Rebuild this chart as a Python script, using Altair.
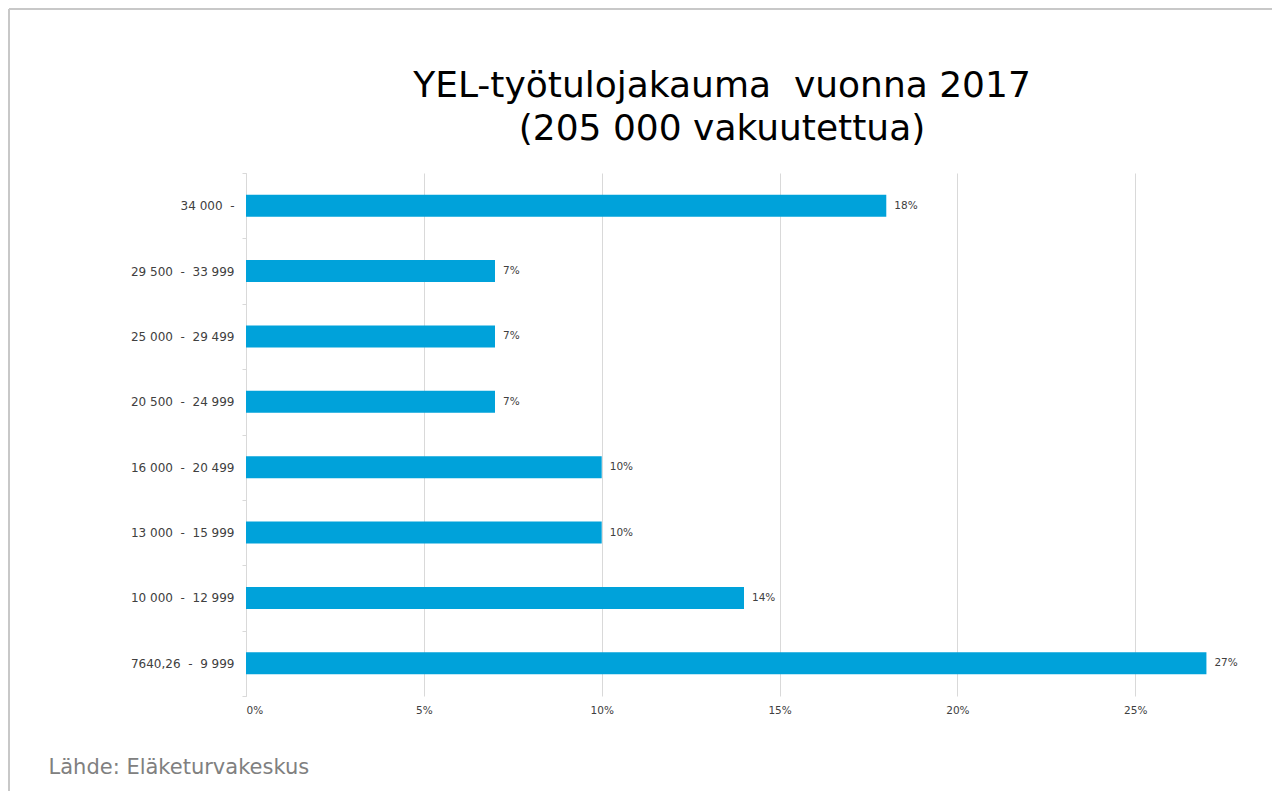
import altair as alt
import pandas as pd

NB = "\u00a0"
categories = [
    "34 000  -",
    "29 500  -  33 999",
    "25 000  -  29 499",
    "20 500  -  24 999",
    "16 000  -  20 499",
    "13 000  -  15 999",
    "10 000  -  12 999",
    "7640,26  -  9 999",
]
values = [18, 7, 7, 7, 10, 10, 14, 27]
value_labels = ["18%", "7%", "7%", "7%", "10%", "10%", "14%", "27%"]
x_ticks = [0, 5, 10, 15, 20, 25]
title_lines = ["YEL-työtulojakauma  vuonna 2017", "(205 000 vakuutettua)"]
source_text = "Lähde: Eläketurvakeskus"

cats = [c.replace(" ", NB) for c in categories]
titles = [t.replace("  ", NB + NB) for t in title_lines]
df = pd.DataFrame({"cat": cats, "value": values, "label": value_labels})

FONT = "DejaVu Sans"
W, H = 996, 523

y_enc = alt.Y("cat:N", sort=cats, title=None,
              scale=alt.Scale(paddingInner=0, paddingOuter=0),
              axis=alt.Axis(tickBand="extent", tickSize=4, tickColor="#d9d9d9",
                            domainColor="#d9d9d9", labelPadding=8,
                            labelFontSize=12, labelColor="#404040", labelFont=FONT))
x_enc = alt.X("value:Q", scale=alt.Scale(domain=[0, 28], nice=False),
              axis=alt.Axis(values=x_ticks, labelExpr="datum.value + '%'",
                            ticks=False, domain=False, grid=True, gridColor="#d9d9d9",
                            labelFontSize=10.5, labelColor="#404040", labelFont=FONT,
                            labelPadding=9,
                            title=source_text, titleAnchor="start", titleX=-198,
                            titleY=77, titleBaseline="alphabetic", titleFontSize=21,
                            titleFontWeight="normal", titleColor="#808080", titleFont=FONT))

bars = alt.Chart(df).mark_bar(size=22, color="#00a2da").encode(x=x_enc, y=y_enc)
text = alt.Chart(df).mark_text(align="left", dx=8, fontSize=10.5, color="#404040",
                               font=FONT).encode(x="value:Q", y=alt.Y("cat:N", sort=cats), text="label:N")

one = pd.DataFrame({"k": [0]})
frame_top = alt.Chart(one).mark_rule(color="#c8c8c8", strokeWidth=2).encode(
    x=alt.value(-237), x2=alt.value(1026), y=alt.value(-164))
frame_left = alt.Chart(one).mark_rule(color="#c8c8c8", strokeWidth=2).encode(
    x=alt.value(-237), y=alt.value(-164), y2=alt.value(618))

chart = alt.layer(bars, text, frame_top, frame_left).properties(
    width=W, height=H,
    background="white",
    title=alt.TitleParams(titles, fontSize=36, font=FONT, fontWeight="normal",
                          color="#000000", anchor="middle", frame="group", dx=-22,
                          offset=-140, lineHeight=43),
    autosize=alt.AutoSizeParams(type="none"),
    padding={"left": 238, "top": 165, "right": 30, "bottom": 95},
).configure_view(stroke="transparent", strokeWidth=0)

chart.save("out.html", embed_options={"renderer": "svg", "actions": False})
